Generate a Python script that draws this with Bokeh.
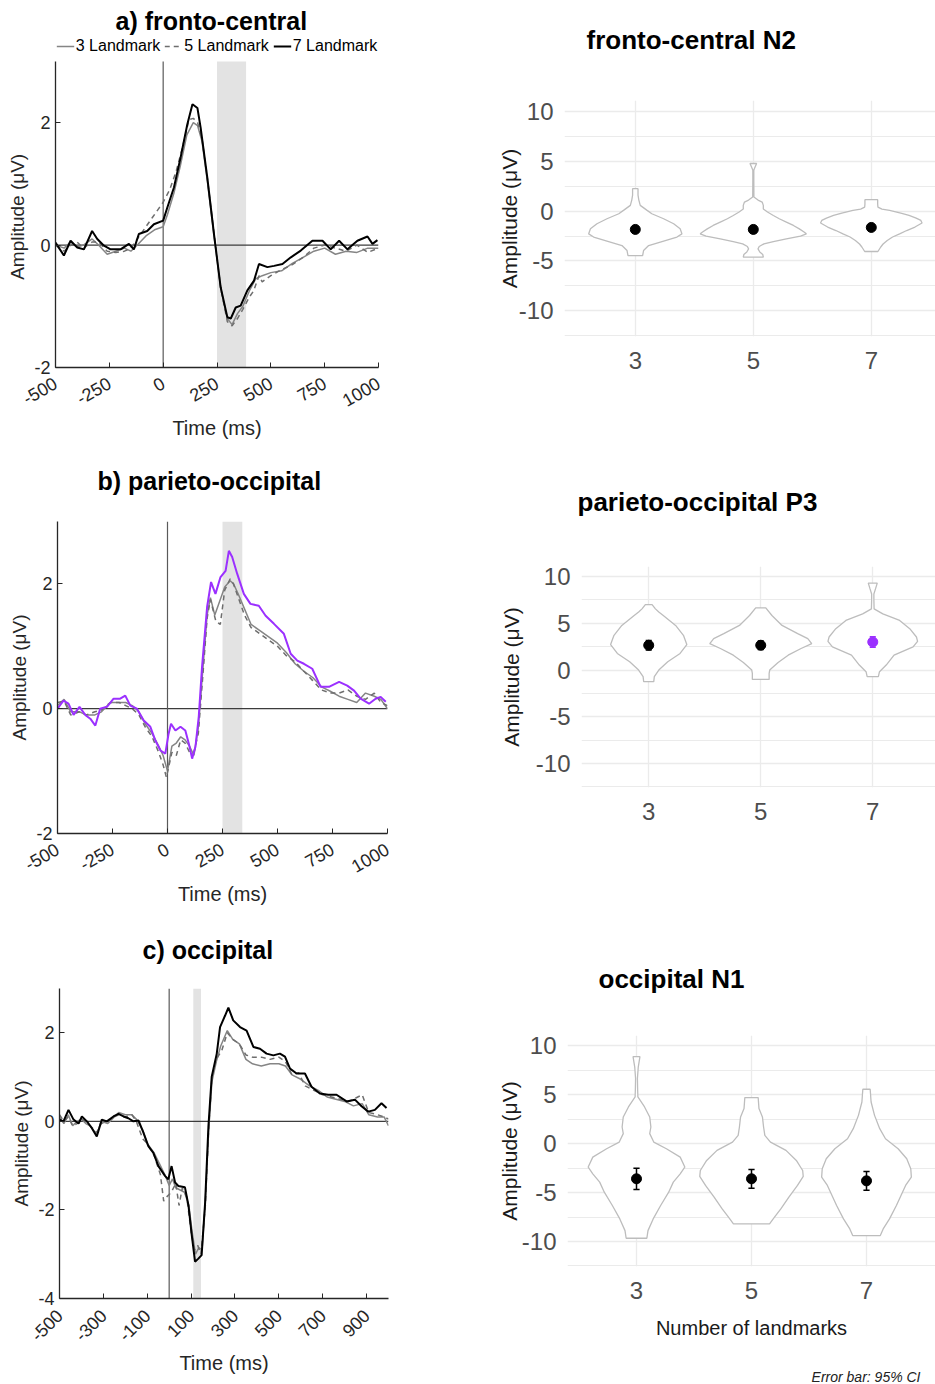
from bokeh.plotting import figure
from bokeh.models import Range1d, FixedTicker, BoxAnnotation, Span, Legend, LegendItem, Title
from bokeh.layouts import row, column
from bokeh.embed import file_html
from bokeh.resources import INLINE
import math

FONT = "Liberation Sans"
AX = "#262626"
GRID = "#EBEBEB"
PURPLE = "#9B30FF"
GRAY3 = "#858585"
GRAY5 = "#6E6E6E"

# ---------------- ERP data (time in ms, amplitude in microvolts) ----------------
# a) fronto-central
a_t3 = [-500,-460,-430,-400,-370,-330,-300,-260,-220,-180,-150,-120,-80,-40,0,20,50,80,110,140,160,180,205,236,267,298,320,345,370,400,430,460,500,550,600,650,700,750,800,850,900,950,1000]
a_v3 = [0.0,-0.05,0.05,-0.03,0.0,0.1,0.0,-0.15,-0.1,-0.05,-0.1,0.0,0.15,0.25,0.3,0.5,0.85,1.3,1.8,2.0,1.95,1.7,1.05,0.15,-0.7,-1.2,-1.3,-1.12,-1.0,-0.75,-0.55,-0.5,-0.45,-0.42,-0.3,-0.2,-0.1,-0.05,-0.15,-0.1,-0.12,-0.05,-0.05]
a_t5 = [-500,-460,-430,-400,-370,-330,-300,-260,-220,-180,-150,-120,-80,-50,-20,0,30,60,90,120,140,160,180,205,236,267,298,320,345,370,400,420,445,460,500,550,600,650,700,750,800,850,900,950,1000]
a_v5 = [0.0,-0.1,0.0,0.05,-0.05,0.05,0.05,-0.1,-0.12,-0.1,-0.05,0.1,0.3,0.45,0.6,0.7,0.9,1.2,1.6,2.05,2.07,2.0,1.75,1.1,0.2,-0.7,-1.25,-1.32,-1.2,-1.05,-0.85,-0.75,-0.5,-0.6,-0.5,-0.4,-0.32,-0.2,-0.05,0.0,-0.05,-0.1,0.0,-0.12,-0.05]
a_t7 = [-500,-461,-430,-399,-368,-330,-306,-275,-244,-198,-159,-136,-113,-74,-43,0,19,50,81,112,136,159,174,205,236,267,298,314,337,360,391,422,445,484,515,554,593,639,693,740,778,817,856,902,949,972,995]
a_v7 = [0.04,-0.17,0.07,-0.04,-0.07,0.23,0.10,-0.01,-0.07,-0.07,0.02,-0.07,0.18,0.23,0.34,0.40,0.61,0.94,1.43,1.97,2.30,2.24,1.92,1.10,0.18,-0.69,-1.18,-1.20,-1.02,-0.99,-0.74,-0.58,-0.31,-0.36,-0.34,-0.31,-0.20,-0.09,0.07,0.07,-0.07,0.07,-0.07,0.07,0.14,0.02,0.08]
a_window = [250, 385]

# b) parieto-occipital
b_t3 = [-500,-470,-440,-400,-370,-330,-300,-260,-220,-190,-160,-130,-100,-70,-40,-20,0,20,40,60,80,100,120,140,160,180,195,215,240,260,285,300,320,350,380,420,460,500,540,580,620,660,700,740,780,820,860,900,940,970,1000]
b_v3 = [0.05,0.15,-0.05,-0.05,-0.1,-0.1,-0.05,0.1,0.1,0.1,0.05,-0.05,-0.25,-0.4,-0.6,-0.75,-1.0,-0.6,-0.55,-0.45,-0.5,-0.6,-0.75,-0.3,0.6,1.5,1.78,1.5,1.75,1.95,2.05,2.0,1.85,1.6,1.35,1.25,1.15,1.05,0.9,0.72,0.6,0.5,0.35,0.28,0.2,0.15,0.1,0.25,0.2,0.15,0.0]
b_t5 = [-500,-470,-440,-400,-370,-330,-300,-260,-220,-190,-160,-130,-100,-70,-40,-20,-5,20,40,60,80,100,120,140,160,180,195,220,240,260,285,300,320,350,380,420,460,500,540,580,620,660,700,740,780,820,860,900,940,970,1000]
b_v5 = [0.1,0.12,-0.1,-0.05,-0.1,-0.05,-0.02,0.1,0.1,0.05,0.0,-0.1,-0.3,-0.45,-0.7,-0.9,-1.1,-0.7,-0.75,-0.5,-0.55,-0.7,-0.7,-0.4,0.5,1.45,1.75,1.4,1.35,1.9,2.08,2.0,1.8,1.5,1.3,1.2,1.1,1.0,0.85,0.75,0.6,0.45,0.3,0.25,0.25,0.3,0.2,0.15,0.25,0.1,0.05]
b_t7 = [-500,-473,-450,-427,-400,-374,-351,-328,-306,-275,-245,-215,-192,-169,-139,-108,-78,-55,-32,-10,5,16,36,59,81,97,112,127,142,157,180,198,218,241,264,279,294,317,347,377,415,446,484,529,560,590,620,658,696,734,780,817,848,878,916,946,969,992]
b_v7 = [0.0,0.13,0.08,-0.1,0.03,-0.1,-0.16,-0.27,0.0,0.03,0.16,0.16,0.21,0.05,0.0,-0.19,-0.29,-0.51,-0.67,-0.72,-0.4,-0.24,-0.35,-0.29,-0.35,-0.56,-0.8,-0.61,-0.13,0.67,1.63,2.03,1.84,2.11,2.21,2.53,2.43,2.16,1.84,1.68,1.65,1.49,1.36,1.2,0.88,0.77,0.72,0.64,0.35,0.35,0.43,0.37,0.29,0.16,0.08,0.16,0.19,0.11]
b_window = [250, 340]

# c) occipital
c_t3 = [-500,-480,-460,-440,-420,-400,-380,-360,-330,-310,-280,-250,-230,-200,-170,-150,-120,-100,-70,-40,-20,0,15,30,50,70,90,105,120,135,150,165,180,195,215,235,265,290,320,350,380,420,460,500,530,560,600,640,680,720,760,800,840,880,910,950,980,1000]
c_v3 = [0.1,-0.05,0.15,-0.1,0.0,0.05,-0.05,-0.1,-0.3,0.0,-0.05,0.1,0.2,0.15,0.15,0.05,-0.2,-0.5,-0.7,-1.0,-1.2,-1.45,-1.3,-1.5,-1.55,-1.6,-1.9,-2.5,-3.0,-2.85,-2.9,-1.8,-0.2,0.9,1.35,1.7,2.05,1.85,1.75,1.4,1.3,1.25,1.3,1.3,1.25,1.05,0.95,0.8,0.7,0.55,0.5,0.45,0.35,0.4,0.15,0.1,0.1,-0.1]
c_t5 = [-500,-480,-460,-440,-420,-400,-380,-360,-330,-310,-280,-250,-230,-200,-170,-150,-120,-100,-70,-40,-25,-10,10,30,45,60,80,100,115,130,145,165,180,195,215,240,265,290,320,350,380,420,460,500,530,560,590,620,660,700,740,780,820,860,880,910,950,980,1000]
c_v5 = [0.15,0.0,0.1,-0.1,-0.05,0.05,0.0,-0.1,-0.25,-0.05,0.0,0.1,0.15,0.1,0.15,0.0,-0.4,-0.5,-0.75,-1.2,-1.8,-1.7,-1.6,-1.4,-1.9,-1.5,-1.7,-2.5,-2.9,-2.8,-3.0,-1.9,-0.2,1.0,1.4,1.6,2.0,1.85,1.75,1.5,1.45,1.45,1.4,1.45,1.35,1.05,1.1,0.8,0.7,0.6,0.55,0.5,0.45,0.55,0.6,0.2,0.15,0.1,0.05]
c_t7 = [-500,-482,-459,-436,-413,-398,-375,-353,-330,-307,-284,-254,-231,-208,-186,-163,-140,-117,-95,-72,-49,-19,-4,11,27,42,72,88,103,118,133,148,164,179,194,217,232,255,270,292,323,353,384,414,444,475,505,528,551,581,619,649,687,725,763,809,847,877,908,938,968,991]
c_v7 = [0.04,0.0,0.26,0.04,-0.05,0.11,0.0,-0.15,-0.34,0.04,0.0,0.11,0.17,0.11,0.07,0.0,0.02,-0.26,-0.56,-0.71,-1.01,-1.23,-1.31,-1.01,-1.38,-1.46,-1.49,-1.9,-2.57,-3.17,-3.1,-3.02,-1.83,-0.11,1.01,1.53,2.13,2.39,2.57,2.28,2.13,2.05,1.68,1.64,1.53,1.49,1.53,1.46,1.19,1.08,1.08,0.78,0.63,0.6,0.6,0.45,0.49,0.34,0.22,0.26,0.41,0.3]
c_window = [110, 145]

erp_xticks_ab = [-500, -250, 0, 250, 500, 750, 1000]
erp_xticks_c = [-500, -300, -100, 100, 300, 500, 700, 900]
legend_labels = ["3 Landmark", "5 Landmark", "7 Landmark"]

# ---------------- Violin data (amplitude, half-width in category units) ----------------
conditions = ["3", "5", "7"]
va3_y = [2.24, 1.6, 1.1, 0.57, 0.07, -0.27, -0.77, -1.27, -1.78, -2.28, -2.6, -3.05, -3.45, -3.95, -4.46]
va3_w = [0.023, 0.023, 0.03, 0.042, 0.10, 0.14, 0.24, 0.325, 0.38, 0.395, 0.353, 0.226, 0.113, 0.07, 0.062]
va5_y = [4.76, 4.4, 4.09, 3.0, 1.4, 1.1, 0.9, 0.57, 0.2, -0.1, -0.44, -0.77, -1.1, -1.44, -1.78, -2.1, -2.28, -2.5, -2.78, -3.05, -3.28, -3.55, -3.79, -4.1, -4.35, -4.62]
va5_w = [0.028, 0.015, 0.004, 0.004, 0.005, 0.04, 0.075, 0.085, 0.085, 0.12, 0.17, 0.22, 0.28, 0.34, 0.39, 0.43, 0.45, 0.40, 0.28, 0.17, 0.09, 0.05, 0.04, 0.055, 0.08, 0.085]
va7_y = [1.14, 0.7, 0.4, 0.2, 0.07, -0.2, -0.44, -0.7, -0.94, -1.2, -1.6, -1.95, -2.28, -2.6, -2.95, -3.3, -3.6, -4.05]
va7_w = [0.054, 0.054, 0.056, 0.09, 0.155, 0.25, 0.32, 0.38, 0.42, 0.43, 0.37, 0.30, 0.24, 0.18, 0.135, 0.1, 0.08, 0.056]
va_mean = [-1.84, -1.84, -1.64]
va_lo = [-2.14, -2.19, -1.89]
va_hi = [-1.54, -1.49, -1.39]

vb3_y = [7.0, 6.54, 6.2, 5.83, 4.77, 3.71, 2.72, 1.77, 0.88, 0.0, -0.7, -1.24]
vb3_w = [0.03, 0.06, 0.09, 0.13, 0.24, 0.31, 0.34, 0.28, 0.17, 0.09, 0.05, 0.045]
vb5_y = [6.64, 5.83, 4.77, 3.89, 3.36, 2.83, 2.3, 1.59, 0.81, 0.0, -0.35, -1.0]
vb5_w = [0.045, 0.1, 0.19, 0.33, 0.42, 0.455, 0.36, 0.245, 0.155, 0.08, 0.075, 0.075]
vb7_y = [9.29, 8.7, 8.13, 7.5, 6.54, 6.0, 5.3, 4.42, 3.53, 3.07, 2.47, 1.59, 0.53, -0.18, -0.71]
vb7_w = [0.04, 0.025, 0.01, 0.01, 0.012, 0.09, 0.24, 0.33, 0.39, 0.40, 0.36, 0.19, 0.12, 0.06, 0.05]
vb_mean = [2.65, 2.65, 3.0]
vb_lo = [2.15, 2.2, 2.44]
vb_hi = [3.15, 3.1, 3.56]

vc3_y = [8.9, 7.8, 6.67, 5.5, 4.79, 3.76, 2.74, 1.71, 1.03, 0.17, -0.51, -1.37, -2.39, -3.08, -3.93, -4.96, -6.32, -7.69, -8.89, -9.67]
vc3_w = [0.03, 0.015, 0.008, 0.01, 0.012, 0.07, 0.115, 0.125, 0.115, 0.15, 0.26, 0.38, 0.42, 0.38, 0.32, 0.28, 0.21, 0.145, 0.1, 0.09]
vc5_y = [4.72, 3.59, 2.74, 1.71, 0.85, 0.17, -0.68, -1.71, -2.74, -3.35, -4.27, -5.47, -6.67, -7.52, -8.2]
vc5_w = [0.058, 0.065, 0.095, 0.105, 0.116, 0.165, 0.3, 0.39, 0.445, 0.45, 0.4, 0.325, 0.255, 0.2, 0.157]
vc7_y = [5.57, 4.27, 2.9, 1.54, 0.51, -0.51, -1.54, -2.56, -3.42, -4.27, -5.3, -6.32, -7.69, -8.72, -9.4]
vc7_w = [0.032, 0.04, 0.07, 0.115, 0.165, 0.275, 0.35, 0.385, 0.39, 0.34, 0.3, 0.26, 0.2, 0.145, 0.12]
vc_mean = [-3.59, -3.59, -3.8]
vc_lo = [-4.68, -4.55, -4.75]
vc_hi = [-2.5, -2.63, -2.84]

v_yticks = [-10, -5, 0, 5, 10]
v_yminor = [-12.5, -7.5, -2.5, 2.5, 7.5]

AMP_LABEL = "Amplitude (μV)"


def hyphen_labels(ticks):
    return {t: str(t) for t in ticks}


def add_spacer(p, size, standoff, where="above"):
    p.add_layout(Title(text=" ", text_font=FONT, text_font_size=size, standoff=standoff), where)


def make_erp(W, H, mb, yr, y_top, xticks, yticks, angle, win, series, title, t_offset,
             spacer, xl_standoff, ylabel=AMP_LABEL):
    # y_top: upper end of the plotted axis; yr[1] may exceed it to leave room for a legend
    p = figure(width=W, height=H, x_range=Range1d(-500, 1000), y_range=Range1d(*yr),
               output_backend="svg", toolbar_location=None, frame_align=False,
               min_border_left=mb[0], min_border_right=mb[1],
               min_border_top=mb[2], min_border_bottom=mb[3])
    p.title.text = title
    p.title.text_font = FONT
    p.title.text_font_size = "25px"
    p.title.text_font_style = "bold"
    p.title.text_color = "black"
    p.title.align = "left"
    p.title.offset = t_offset
    p.title.standoff = 0
    if spacer is not None:
        add_spacer(p, spacer, 0)
    p.outline_line_color = None
    p.grid.visible = False
    p.add_layout(BoxAnnotation(left=win[0], right=win[1], bottom=yr[0], top=y_top,
                               fill_color="#E3E3E3", fill_alpha=1, line_color=None,
                               level="underlay"))
    p.segment(x0=[0], y0=[yr[0]], x1=[0], y1=[y_top], line_color="#5A5A5A", line_width=1.2)
    p.add_layout(Span(location=0, dimension="width", line_color="#3C3C3C",
                      line_width=1.2, level="underlay"))
    rs = []
    for t, v, col, dash, lw in series:
        rs.append(p.line(t, v, line_color=col, line_dash=dash, line_width=lw))
    xa = p.xaxis[0]
    ya = p.yaxis[0]
    ya.bounds = (yr[0], y_top)
    xa.ticker = FixedTicker(ticks=xticks)
    ya.ticker = FixedTicker(ticks=yticks)
    xa.major_label_overrides = hyphen_labels(xticks)
    ya.major_label_overrides = hyphen_labels(yticks)
    for ax in (xa, ya):
        ax.axis_line_color = AX
        ax.axis_line_width = 1.3
        ax.major_tick_line_color = AX
        ax.major_tick_in = 5
        ax.major_tick_out = 0
        ax.minor_tick_line_color = None
        ax.major_label_text_font = FONT
        ax.major_label_text_font_size = "18px"
        ax.major_label_text_color = AX
        ax.axis_label_text_font = FONT
        ax.axis_label_text_font_style = "normal"
        ax.axis_label_text_color = AX
    xa.axis_label = "Time (ms)"
    xa.axis_label_text_font_size = "20px"
    xa.major_label_orientation = angle
    xa.major_label_standoff = 14
    xa.axis_label_standoff = xl_standoff
    ya.axis_label = ylabel
    ya.axis_label_text_font_size = "19px"
    ya.major_label_standoff = 5
    ya.axis_label_standoff = 3
    return p, rs


def make_violin(W, H, mb, x_end, shapes, mean, lo, hi, dot_colors, title, t_offset,
                sp_standoff, yl_standoff, xlabel=None, caption=None):
    p = figure(width=W, height=H, x_range=Range1d(0.4, x_end), y_range=Range1d(-12.56, 11.07),
               output_backend="svg", toolbar_location=None, frame_align=False,
               min_border_left=mb[0], min_border_right=mb[1],
               min_border_top=mb[2], min_border_bottom=mb[3])
    p.outline_line_color = None
    p.title.text = title
    p.title.text_font = FONT
    p.title.text_font_size = "26px"
    p.title.text_font_style = "bold"
    p.title.text_color = "black"
    p.title.align = "left"
    p.title.offset = t_offset
    p.title.standoff = 0
    add_spacer(p, "26px", sp_standoff)
    xa = p.xaxis[0]
    ya = p.yaxis[0]
    xa.ticker = FixedTicker(ticks=[1, 2, 3])
    xa.major_label_overrides = {1: conditions[0], 2: conditions[1], 3: conditions[2]}
    ya.ticker = FixedTicker(ticks=v_yticks, minor_ticks=v_yminor)
    ya.major_label_overrides = hyphen_labels(v_yticks)
    for ax in (xa, ya):
        ax.axis_line_color = None
        ax.major_tick_line_color = None
        ax.minor_tick_line_color = None
        ax.major_label_text_font = FONT
        ax.major_label_text_font_size = "24px"
        ax.major_label_text_color = "#4D4D4D"
        ax.axis_label_text_font = FONT
        ax.axis_label_text_font_style = "normal"
        ax.axis_label_text_color = "#1A1A1A"
    xa.major_label_standoff = 9
    ya.major_label_standoff = 5
    ya.axis_label = AMP_LABEL
    ya.axis_label_text_font_size = "21px"
    ya.axis_label_standoff = yl_standoff
    if xlabel:
        xa.axis_label = xlabel
        xa.axis_label_text_font_size = "20px"
        xa.axis_label_standoff = 15
    p.xgrid.grid_line_color = GRID
    p.xgrid.grid_line_width = 1.3
    p.ygrid.grid_line_color = GRID
    p.ygrid.grid_line_width = 1.3
    p.ygrid.minor_grid_line_color = GRID
    p.ygrid.minor_grid_line_width = 1.0
    for i, (ys, ws) in enumerate(shapes):
        pos = i + 1
        xs = [pos + w for w in ws] + [pos - w for w in reversed(ws)]
        yy = list(ys) + list(reversed(ys))
        p.patch(xs, yy, fill_color="white", line_color="#BDBDBD", line_width=1.3)
    pos = [1, 2, 3]
    cap = 0.027
    p.segment(x0=pos, y0=lo, x1=pos, y1=hi, line_color=dot_colors, line_width=1.5)
    p.segment(x0=[x - cap for x in pos], y0=lo, x1=[x + cap for x in pos], y1=lo,
              line_color=dot_colors, line_width=1.5)
    p.segment(x0=[x - cap for x in pos], y0=hi, x1=[x + cap for x in pos], y1=hi,
              line_color=dot_colors, line_width=1.5)
    p.scatter(pos, mean, size=10, fill_color=dot_colors, line_color=dot_colors)
    if caption:
        add_spacer(p, "14px", 7, "below")
        cap_t = Title(text=caption, align="right", text_font=FONT, text_font_size="14px",
                      text_font_style="italic", text_color="#222222", offset=15, standoff=0)
        p.add_layout(cap_t, "below")
    return p


# ---------------- ERP panels ----------------
# panel a: the plot area reaches a little above +3 µV to hold the legend row;
# non-breaking spaces keep its y label centred on the -2..3 axis
pa, ra = make_erp(468, 460, (55, 90, 34, 93), (-2, 3.44), 3, erp_xticks_ab, [-2, 0, 2],
                  math.pi / 6, a_window,
                  [(a_t3, a_v3, GRAY3, "solid", 1.5), (a_t5, a_v5, GRAY5, "5 4", 1.5),
                   (a_t7, a_v7, "black", "solid", 2.0)],
                  "a) fronto-central", 60, None, 1,
                  ylabel=AMP_LABEL + "\u00a0" * 6)
leg = Legend(items=[LegendItem(label=legend_labels[i], renderers=[ra[i]]) for i in range(3)],
             orientation="horizontal", location="top_center",
             label_text_font=FONT, label_text_font_size="16px", label_text_color="black",
             glyph_width=18, glyph_height=20, label_height=20, label_standoff=2, spacing=4,
             padding=0, margin=2, border_line_color=None, background_fill_alpha=0)
pa.add_layout(leg, "center")

pb, rb = make_erp(468, 458, (57, 81, 61, 85), (-2, 3), 3, erp_xticks_ab, [-2, 0, 2],
                  math.pi / 6, b_window,
                  [(b_t3, b_v3, GRAY3, "solid", 1.5), (b_t5, b_v5, GRAY5, "5 4", 1.5),
                   (b_t7, b_v7, PURPLE, "solid", 2.0)],
                  "b) parieto-occipital", 40, "22px", 1)

pc, rc = make_erp(468, 466, (59, 80, 70, 86), (-4, 3), 3, erp_xticks_c, [-4, -2, 0, 2],
                  math.pi / 4, c_window,
                  [(c_t3, c_v3, GRAY3, "solid", 1.5), (c_t5, c_v5, GRAY5, "5 4", 1.5),
                   (c_t7, c_v7, "black", "solid", 2.0)],
                  "c) occipital", 83, "21px", 2)

# ---------------- Violin panels ----------------
va = make_violin(467, 460, (96, 0, 100, 124), 3.544,
                 [(va3_y, va3_w), (va5_y, va5_w), (va7_y, va7_w)],
                 va_mean, va_lo, va_hi, ["black", "black", "black"],
                 "fronto-central N2", 22, 14, -5)
vb = make_violin(467, 458, (113, 0, 106, 131), 3.56,
                 [(vb3_y, vb3_w), (vb5_y, vb5_w), (vb7_y, vb7_w)],
                 vb_mean, vb_lo, vb_hi, ["black", "black", PURPLE],
                 "parieto-occipital P3", -4, 18, 10)
vc = make_violin(467, 466, (99, 0, 117, 118), 3.6,
                 [(vc3_y, vc3_w), (vc5_y, vc5_w), (vc7_y, vc7_w)],
                 vc_mean, vc_lo, vc_hi, ["black", "black", "black"],
                 "occipital N1", 31, 10, -2, xlabel="Number of landmarks",
                 caption="Error bar: 95% CI")

layout = column(row(pa, va, spacing=0), row(pb, vb, spacing=0), row(pc, vc, spacing=0), spacing=0)

open("out.html", "w").write(file_html(layout, INLINE))
